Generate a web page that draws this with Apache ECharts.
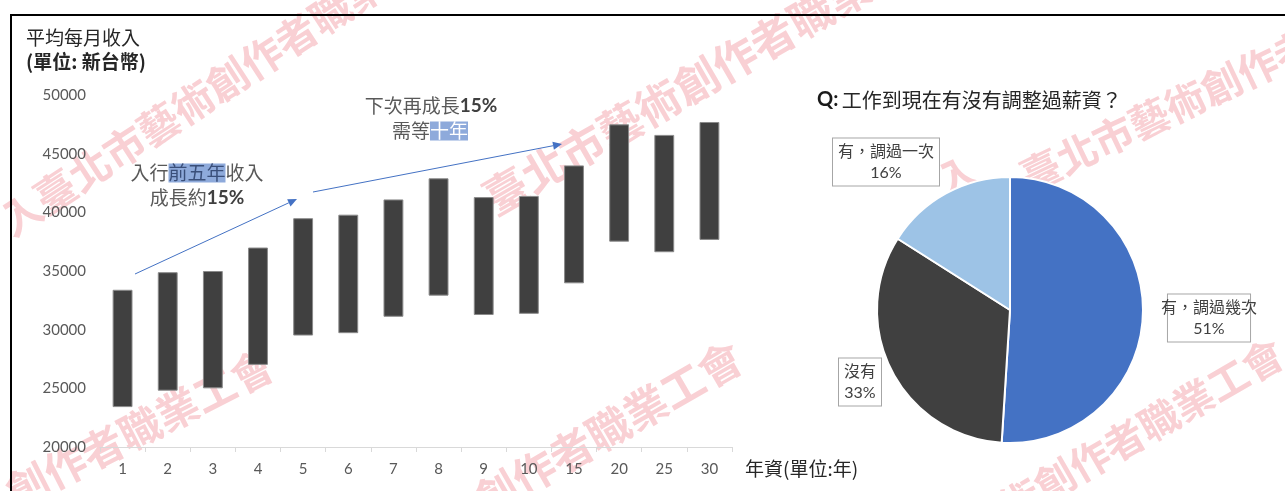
<!DOCTYPE html>
<html>
<head>
<meta charset="utf-8">
<script src="https://cdn.jsdelivr.net/npm/echarts@6/dist/echarts.min.js"></script>
<style>
html,body{margin:0;padding:0;background:#fff;}
#chart{width:1285px;height:491px;}
</style>
</head>
<body>
<div id="chart"></div>
<script>
// ---- Data ----
const categories = ['1','2','3','4','5','6','7','8','9','10','15','20','25','30'];
const lowValues  = [23400, 24800, 25000, 27000, 29500, 29700, 31100, 32900, 31250, 31350, 33950, 37500, 36600, 37650];
const highValues = [33400, 34900, 35000, 37000, 39500, 39800, 41100, 42900, 41300, 41400, 44000, 47500, 46600, 47700];
const yTicks = [20000, 25000, 30000, 35000, 40000, 45000, 50000];
const pieNames  = ['有，調過幾次', '沒有', '有，調過一次'];
const pieValues = [51, 33, 16];

const CJK = "'Noto Sans CJK TC', 'Noto Sans CJK SC', sans-serif";
const NUM = "Lato, 'Noto Sans CJK TC', sans-serif";

const chart = echarts.init(document.getElementById('chart'), null, {renderer: 'canvas'});

function arrow(x1, y1, x2, y2, color) {
  const dx = x2 - x1, dy = y2 - y1, len = Math.sqrt(dx*dx + dy*dy);
  const ux = dx/len, uy = dy/len, L = 9, W = 4;
  const bx = x2 - ux*L, by = y2 - uy*L;
  return [
    {type:'line', z:100, shape:{x1:x1, y1:y1, x2:bx, y2:by}, style:{stroke:color, lineWidth:1}},
    {type:'polygon', z:100, shape:{points:[[x2,y2],[bx - uy*W, by + ux*W],[bx + uy*W, by - ux*W]]}, style:{fill:color}}
  ];
}

function watermark(text, x, y, deg, size) {
  return {
    type:'text', z:-10, x:x, y:y, rotation: deg*Math.PI/180,
    style:{text:text, fill:'#f9d0d4', font:'bold ' + size + 'px ' + CJK, textAlign:'left', textVerticalAlign:'middle'}
  };
}

const graphics = [
  watermark('入臺北市藝術創作者職業工會', 4, 225, 33, 41),
  watermark('創作者職業工會', 9, 495, 27, 42),
  watermark('臺北市藝術創作者職業工會', 487, 202, 30, 44),
  watermark('創作者職業工會', 478, 504, 30, 43),
  watermark('入', 939, 184, 25, 40),
  watermark('臺北市藝術創作者', 1023, 179, 25.5, 40),
  watermark('術創作者職業工會', 1003, 510, 30, 40),
  // frame
  {type:'line', z:100, shape:{x1:10, y1:15, x2:1285, y2:15}, style:{stroke:'#000', lineWidth:2}},
  {type:'line', z:100, shape:{x1:11, y1:15, x2:11, y2:491}, style:{stroke:'#000', lineWidth:2}},
  // left titles
  {type:'text', z:100, x:26, y:38, style:{text:'平均每月收入', font:'19px ' + CJK, fill:'#262626', textVerticalAlign:'middle'}},
  {type:'text', z:100, x:26, y:62, style:{text:'(單位: 新台幣)', font:'bold 19px ' + CJK, fill:'#262626', textVerticalAlign:'middle'}},
  // annotations
  {type:'text', z:100, x:197, y:173, style:{
    text:'{n|入行}{h|前五年}{n|收入}', textAlign:'center', textVerticalAlign:'middle',
    rich:{n:{font:'19px ' + CJK, fill:'#595959'}, h:{font:'19px ' + CJK, fill:'#3a4f7a', backgroundColor:'#8eaadb'}}
  }},
  {type:'text', z:100, x:197, y:198, style:{
    text:'{n|成長約}{b|15%}', textAlign:'center', textVerticalAlign:'middle',
    rich:{n:{font:'19px ' + CJK, fill:'#595959'}, b:{font:'bold 19px ' + NUM, fill:'#404040'}}
  }},
  {type:'text', z:100, x:431, y:106, style:{
    text:'{n|下次再成長}{b|15%}', textAlign:'center', textVerticalAlign:'middle',
    rich:{n:{font:'19px ' + CJK, fill:'#595959'}, b:{font:'bold 19px ' + NUM, fill:'#404040'}}
  }},
  {type:'text', z:100, x:430, y:131, style:{
    text:'{n|需等}{h|十年}', textAlign:'center', textVerticalAlign:'middle',
    rich:{n:{font:'19px ' + CJK, fill:'#595959'}, h:{font:'19px ' + CJK, fill:'#ffffff', backgroundColor:'#8eaadb'}}
  }},
  ...arrow(135, 274, 297, 199, '#4472c4'),
  ...arrow(313, 192, 562, 144, '#4472c4'),
  // pie title
  {type:'text', z:100, x:817, y:100, style:{
    text:'{q|Q:} {t|工作到現在有沒有調整過薪資？}', textVerticalAlign:'middle',
    rich:{q:{font:'bold 20px ' + NUM, fill:'#1a1a1a'}, t:{font:'20px ' + CJK, fill:'#262626'}}
  }}
];

const labelPos = [[1209, 318], [860, 382], [886, 162]];

const option = {
  backgroundColor: '#ffffff',
  animation: false,
  grid: {left: 100, right: 553, top: 95, bottom: 44, containLabel: false},
  xAxis: {
    type: 'category',
    data: categories,
    name: '年資(單位:年)',
    nameLocation: 'end',
    nameGap: 13,
    nameTextStyle: {fontFamily: CJK, fontSize: 19, color: '#262626', verticalAlign: 'top', padding: [12, 0, 0, 0]},
    axisLine: {show: true, lineStyle: {color: '#d9d9d9', width: 1}},
    axisTick: {show: true, length: 5, lineStyle: {color: '#d9d9d9'}},
    axisLabel: {color: '#595959', fontFamily: NUM, fontSize: 15, margin: 15}
  },
  yAxis: {
    type: 'value',
    min: yTicks[0],
    max: yTicks[yTicks.length - 1],
    interval: yTicks[1] - yTicks[0],
    axisLine: {show: false},
    axisTick: {show: false},
    splitLine: {show: false},
    axisLabel: {color: '#595959', fontFamily: NUM, fontSize: 15, margin: 14, formatter: v => String(v)}
  },
  graphic: graphics,
  series: [
    {
      type: 'bar', stack: 'range', data: lowValues, barWidth: '44%',
      itemStyle: {color: 'rgba(0,0,0,0)'}, silent: true, z: 2
    },
    {
      type: 'bar', stack: 'range', barWidth: '44%',
      data: highValues.map((h, i) => h - lowValues[i]),
      itemStyle: {color: '#404040', borderColor: '#8a8a8a', borderWidth: 1}, z: 3
    },
    {
      type: 'pie',
      center: [1010, 310],
      radius: 133,
      startAngle: 90,
      clockwise: true,
      data: pieNames.map((n, i) => ({name: n, value: pieValues[i]})),
      itemStyle: {borderColor: '#ffffff', borderWidth: 2},
      color: ['#4472c4', '#404040', '#9dc3e6'],
      label: {
        show: true,
        position: 'outside',
        alignTo: 'none',
        overflow: 'none',
        formatter: p => p.name + '\n' + p.value + '%',
        fontFamily: NUM, fontSize: 16, color: '#404040', lineHeight: 21,
        backgroundColor: '#ffffff', borderColor: '#a6a6a6', borderWidth: 1,
        padding: [3, 5, 2, 5], align: 'center'
      },
      labelLine: {show: false},
      labelLayout: function (params) {
        const p = labelPos[params.dataIndex];
        return {x: p[0], y: p[1], align: 'center', verticalAlign: 'middle'};
      },
      z: 5
    }
  ]
};

chart.setOption(option);
</script>
</body>
</html>
